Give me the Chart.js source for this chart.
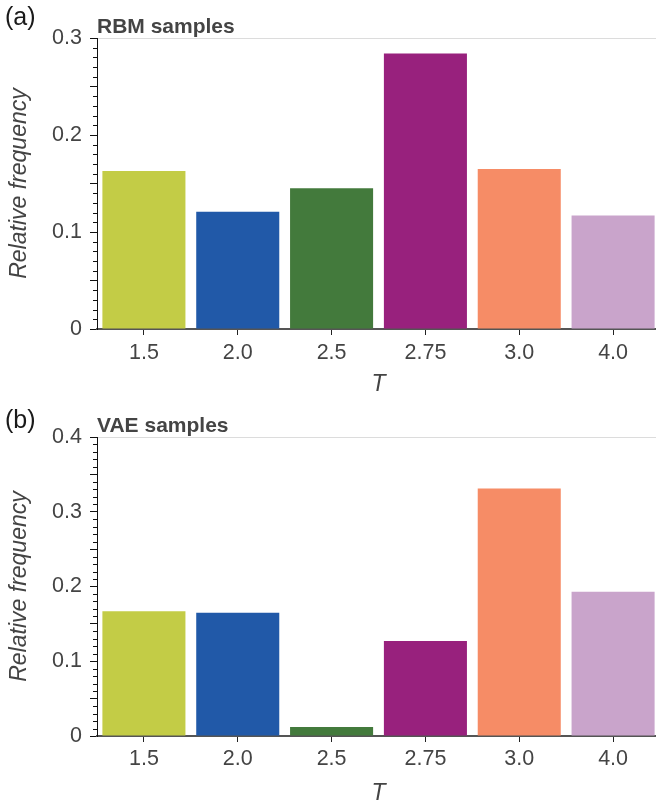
<!DOCTYPE html>
<html>
<head>
<meta charset="utf-8">
<script src="https://cdn.jsdelivr.net/npm/chart.js@4.4.1/dist/chart.umd.min.js"></script>
<style>
  html, body { margin: 0; padding: 0; background: #fff; overflow: hidden; }
  canvas { display: block; }
</style>
</head>
<body>
<canvas id="chartA" width="660" height="398"></canvas>
<canvas id="chartB" width="660" height="404"></canvas>
<script>
// data
const temperatures = ['1.5', '2.0', '2.5', '2.75', '3.0', '4.0'];
const rbmFrequency = [0.163, 0.121, 0.145, 0.284, 0.165, 0.117];
const vaeFrequency = [0.167, 0.165, 0.012, 0.127, 0.331, 0.193];
const barColors = ['#C3CC46', '#2159A8', '#437A3C', '#98217D', '#F68C66', '#C9A4CB'];

const FONT = '"Liberation Sans", Arial, Helvetica, sans-serif';

// small 0.01 ticks on the y axis
const minorTicks = {
    id: 'minorTicks',
    afterDraw(chart) {
        const y = chart.scales.y;
        const ctx = chart.ctx;
        ctx.save();
        ctx.strokeStyle = '#111';
        ctx.lineWidth = 1;
        const n = Math.round(y.max / 0.01);
        for (let i = 0; i <= n; i++) {
            if (i % 5 === 0) continue;
            const py = Math.round(y.getPixelForValue(i * 0.01)) + 0.5;
            ctx.beginPath();
            ctx.moveTo(y.right - 4, py);
            ctx.lineTo(y.right, py);
            ctx.stroke();
        }
        ctx.restore();
    }
};

// panel letter and panel title
const panelTitle = {
    id: 'panelTitle',
    afterDraw(chart, args, opts) {
        const ctx = chart.ctx;
        const top = chart.chartArea.top;
        ctx.save();
        ctx.textBaseline = 'alphabetic';
        ctx.textAlign = 'left';
        ctx.fillStyle = '#1a1a1a';
        ctx.font = '25px ' + FONT;
        ctx.fillText(opts.letter, 5, top - opts.letterGap);
        ctx.fillStyle = '#444';
        ctx.font = 'bold 21px ' + FONT;
        ctx.fillText(opts.text, chart.chartArea.left, top - 5);
        ctx.restore();
    }
};

function makeChart(id, values, yMax, cfg) {
    const canvas = document.getElementById(id);
    return new Chart(canvas.getContext('2d'), {
        type: 'bar',
        data: {
            labels: temperatures,
            datasets: [{
                data: values,
                backgroundColor: barColors,
                borderWidth: 0,
                barPercentage: 0.885,
                categoryPercentage: 1
            }]
        },
        options: {
            responsive: false,
            animation: false,
            layout: { padding: { top: cfg.top, left: 0, right: 0, bottom: 0 } },
            plugins: {
                legend: { display: false },
                tooltip: { enabled: false },
                panelTitle: { letter: cfg.letter, text: cfg.title, letterGap: cfg.letterGap }
            },
            scales: {
                x: {
                    afterFit(scale) { scale.height = cfg.xHeight; },
                    grid: {
                        display: true,
                        drawOnChartArea: false,
                        offset: false,
                        tickLength: 6,
                        tickColor: '#222'
                    },
                    border: { color: '#555', width: 2 },
                    ticks: {
                        color: '#444',
                        padding: cfg.xPad,
                        font: { family: FONT, size: 21.5 }
                    },
                    title: {
                        display: true,
                        text: 'T',
                        color: '#444',
                        padding: { top: 0, bottom: cfg.tPad },
                        font: { family: FONT, size: 23, style: 'italic', lineHeight: 0.8 }
                    }
                },
                y: {
                    min: 0,
                    max: yMax,
                    afterFit(scale) { scale.width = 97; },
                    grid: {
                        drawOnChartArea: true,
                        tickLength: 7,
                        tickColor: '#111',
                        color: (c) => (c.tick && Math.abs(c.tick.value - yMax) < 1e-9) ? '#dcdcdc' : 'rgba(0,0,0,0)'
                    },
                    border: { color: '#111', width: 1 },
                    ticks: {
                        stepSize: 0.05,
                        color: '#444',
                        padding: 8,
                        font: { family: FONT, size: 21.5 },
                        callback(value) {
                            const t = Math.round(value * 100);
                            if (t % 10 !== 0) return '';
                            return t === 0 ? '0' : (t / 100).toFixed(1);
                        }
                    },
                    title: {
                        display: true,
                        text: 'Relative frequency',
                        color: '#444',
                        padding: { top: 8, bottom: 0 },
                        font: { family: FONT, size: 23, style: 'italic', lineHeight: 1 }
                    }
                }
            }
        },
        plugins: [minorTicks, panelTitle]
    });
}

makeChart('chartA', rbmFrequency, 0.3, {
    top: 38, xHeight: 69, xPad: 5, tPad: 4,
    letter: '(a)', title: 'RBM samples', letterGap: 13
});
makeChart('chartB', vaeFrequency, 0.4, {
    top: 39, xHeight: 66, xPad: 4, tPad: -1,
    letter: '(b)', title: 'VAE samples', letterGap: 9
});
</script>
</body>
</html>
